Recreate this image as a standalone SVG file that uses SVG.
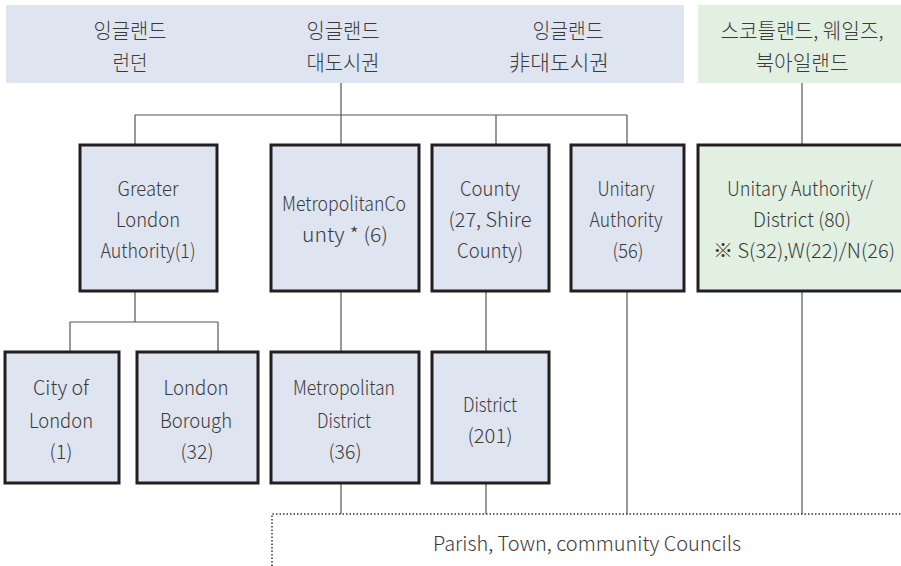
<svg xmlns="http://www.w3.org/2000/svg" width="901" height="566" viewBox="0 0 901 566">
  <style>
    text { font-family: "Noto Sans CJK KR", "Noto Sans", sans-serif; font-weight: 300; font-size: 20px; fill: #3a3a3a; text-anchor: middle; }
    .hdr { font-size: 21px; }
    .box { fill: #dfe4f1; stroke: #231f20; stroke-width: 3; }
    .gbox { fill: #e2f0e2; stroke: #231f20; stroke-width: 3; }
    .ln { fill: none; stroke: #555; stroke-width: 1.2; }
    .dot { fill: none; stroke: #333; stroke-width: 1.5; stroke-dasharray: 1.5 2; }
  </style>

  <!-- header bands -->
  <g id="hdr-england">
    <rect x="6" y="5" width="678" height="78" fill="#dfe4f1"/>
    <text class="hdr" x="130" y="38" textLength="73" lengthAdjust="spacingAndGlyphs">잉글랜드</text>
    <text class="hdr" x="130" y="70" textLength="35" lengthAdjust="spacingAndGlyphs">런던</text>
    <text class="hdr" x="343" y="38" textLength="73" lengthAdjust="spacingAndGlyphs">잉글랜드</text>
    <text class="hdr" x="343" y="70" textLength="73" lengthAdjust="spacingAndGlyphs">대도시권</text>
    <text class="hdr" x="568" y="38" textLength="71" lengthAdjust="spacingAndGlyphs">잉글랜드</text>
    <text class="hdr" x="559" y="70" textLength="100" lengthAdjust="spacingAndGlyphs">非대도시권</text>
  </g>
  <g id="hdr-other">
    <rect x="698" y="5" width="203" height="78" fill="#e2f0e2"/>
    <text class="hdr" x="802" y="38" textLength="163" lengthAdjust="spacingAndGlyphs">스코틀랜드, 웨일즈,</text>
    <text class="hdr" x="802" y="70" textLength="93" lengthAdjust="spacingAndGlyphs">북아일랜드</text>
  </g>

  <!-- connectors -->
  <g id="connectors">
    <path class="ln" d="M341 83V145 M135 115H627 M135 115V145 M496 115V145 M627 115V145"/>
    <path class="ln" d="M802 83V145"/>
    <path class="ln" d="M135 291V322 M70 322H218 M70 322V352 M218 322V352"/>
    <path class="ln" d="M341 291V352 M486 291V352"/>
    <path class="ln" d="M341 483V514 M486 483V514 M627 291V514 M802 291V514"/>
    <path class="dot" d="M272 566V514H901"/>
  </g>

  <!-- upper tier -->
  <g id="gla">
    <rect class="box" x="80" y="145" width="137" height="146"/>
    <text x="148" y="196" textLength="61" lengthAdjust="spacingAndGlyphs">Greater</text>
    <text x="148" y="227" textLength="64" lengthAdjust="spacingAndGlyphs">London</text>
    <text x="148" y="258" textLength="95" lengthAdjust="spacingAndGlyphs">Authority(1)</text>
  </g>
  <g id="metro-county">
    <rect class="box" x="271" y="145" width="148" height="146"/>
    <text x="344" y="211" textLength="124" lengthAdjust="spacingAndGlyphs">MetropolitanCo</text>
    <text x="345" y="242" textLength="86" lengthAdjust="spacingAndGlyphs">unty * (6)</text>
  </g>
  <g id="county">
    <rect class="box" x="432" y="145" width="117" height="146"/>
    <text x="490" y="196" textLength="60" lengthAdjust="spacingAndGlyphs">County</text>
    <text x="490" y="227" textLength="83" lengthAdjust="spacingAndGlyphs">(27, Shire</text>
    <text x="490" y="258" textLength="66" lengthAdjust="spacingAndGlyphs">County)</text>
  </g>
  <g id="unitary">
    <rect class="box" x="571" y="145" width="113" height="146"/>
    <text x="626" y="196" textLength="57" lengthAdjust="spacingAndGlyphs">Unitary</text>
    <text x="626" y="227" textLength="73" lengthAdjust="spacingAndGlyphs">Authority</text>
    <text x="628" y="258" textLength="31" lengthAdjust="spacingAndGlyphs">(56)</text>
  </g>
  <g id="unitary-other">
    <rect class="gbox" x="698" y="145" width="210" height="146"/>
    <text x="800" y="196" textLength="146" lengthAdjust="spacingAndGlyphs">Unitary Authority/</text>
    <text x="802" y="227" textLength="98" lengthAdjust="spacingAndGlyphs">District (80)</text>
    <text x="804" y="258" textLength="182" lengthAdjust="spacingAndGlyphs">※ S(32),W(22)/N(26)</text>
  </g>

  <!-- lower tier -->
  <g id="city-of-london">
    <rect class="box" x="5" y="352" width="114" height="131"/>
    <text x="61" y="395" textLength="56" lengthAdjust="spacingAndGlyphs">City of</text>
    <text x="61" y="428" textLength="64" lengthAdjust="spacingAndGlyphs">London</text>
    <text x="61" y="459" textLength="23" lengthAdjust="spacingAndGlyphs">(1)</text>
  </g>
  <g id="london-borough">
    <rect class="box" x="137" y="352" width="121" height="131"/>
    <text x="196" y="395" textLength="65" lengthAdjust="spacingAndGlyphs">London</text>
    <text x="196" y="428" textLength="72" lengthAdjust="spacingAndGlyphs">Borough</text>
    <text x="197" y="459" textLength="33" lengthAdjust="spacingAndGlyphs">(32)</text>
  </g>
  <g id="metro-district">
    <rect class="box" x="271" y="352" width="148" height="131"/>
    <text x="344" y="395" textLength="102" lengthAdjust="spacingAndGlyphs">Metropolitan</text>
    <text x="344" y="428" textLength="54" lengthAdjust="spacingAndGlyphs">District</text>
    <text x="345" y="459" textLength="33" lengthAdjust="spacingAndGlyphs">(36)</text>
  </g>
  <g id="district">
    <rect class="box" x="432" y="352" width="117" height="131"/>
    <text x="490" y="412" textLength="54" lengthAdjust="spacingAndGlyphs">District</text>
    <text x="490" y="443" textLength="45" lengthAdjust="spacingAndGlyphs">(201)</text>
  </g>

  <!-- parish tier -->
  <g id="parish">
    <text x="587" y="551" textLength="308" lengthAdjust="spacingAndGlyphs">Parish, Town, community  Councils</text>
  </g>
</svg>
